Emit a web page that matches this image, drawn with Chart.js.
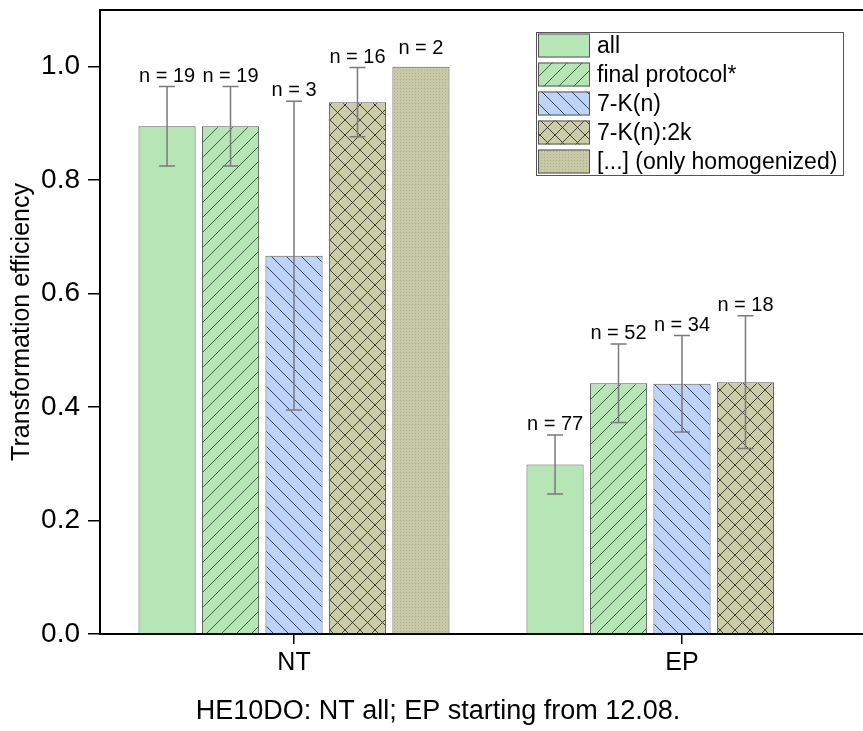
<!DOCTYPE html>
<html>
<head>
<meta charset="utf-8">
<script src="https://cdn.jsdelivr.net/npm/chart.js@4.4.1/dist/chart.umd.min.js"></script>
<style>
html,body{margin:0;padding:0;overflow:hidden;background:#fff;}
#wrap{width:876px;height:731px;position:relative;}
</style>
</head>
<body>
<div id="wrap"><canvas id="c"></canvas></div>
<script>
// ---- data ----
const categories = ['NT', 'EP'];
const seriesNames = ['all', 'final protocol*', '7-K(n)', '7-K(n):2k', '[...] (only homogenized)'];

const allValues   = [0.895, 0.299];
const finalValues = [0.895, 0.442];
const k7nValues   = [0.667, 0.441];
const k7n2kValues = [0.9375, 0.444];
const homogValues = [1.0, null];

const allErr   = [0.070, 0.052];
const finalErr = [0.070, 0.069];
const k7nErr   = [0.272, 0.085];
const k7n2kErr = [0.061, 0.117];
const homogErr = [null, null];

const allN   = [19, 77];
const finalN = [19, 52];
const k7nN   = [3, 34];
const k7n2kN = [16, 18];
const homogN = [2, null];

const yTickValues = [0, 0.2, 0.4, 0.6, 0.8, 1.0];

const seriesValues = [allValues, finalValues, k7nValues, k7n2kValues, homogValues];
const seriesErrors = [allErr, finalErr, k7nErr, k7n2kErr, homogErr];
const seriesCounts = [allN, finalN, k7nN, k7n2kN, homogN];

// ---- styles ----
const FONT = "'Liberation Sans', Arial, sans-serif";
const GREEN = '#b6e6b6';
const BLUE = '#bdd4f8';
const OLIVE = '#caccaa';

function makePattern(bg, type, lineColor) {
  const s = type === 'dots' ? 3 : 15;
  const c = document.createElement('canvas');
  c.width = s; c.height = s;
  const g = c.getContext('2d');
  g.fillStyle = bg; g.fillRect(0, 0, s, s);
  if (type === 'dots') {
    g.fillStyle = 'rgba(120,120,90,0.35)';
    g.fillRect(1, 1, 1, 1);
  } else {
    g.strokeStyle = lineColor; g.lineWidth = 1;
    g.beginPath();
    if (type === 'slash' || type === 'cross') {
      g.moveTo(0, s); g.lineTo(s, 0);
      g.moveTo(-2, 2); g.lineTo(2, -2);
      g.moveTo(s - 2, s + 2); g.lineTo(s + 2, s - 2);
    }
    if (type === 'back' || type === 'cross') {
      g.moveTo(0, 0); g.lineTo(s, s);
      g.moveTo(s - 2, -2); g.lineTo(s + 2, 2);
      g.moveTo(-2, s - 2); g.lineTo(2, s + 2);
    }
    g.stroke();
  }
  return document.getElementById('c').getContext('2d').createPattern(c, 'repeat');
}

const fills = [
  GREEN,
  makePattern(GREEN, 'slash', 'rgba(40,70,40,0.85)'),
  makePattern(BLUE, 'back', 'rgba(30,40,80,0.85)'),
  makePattern(OLIVE, 'cross', 'rgba(40,40,30,0.85)'),
  makePattern('#c8c9a6', 'dots', '#000')
];

// ---- plugins ----
const framePlugin = {
  id: 'frame',
  afterDraw(chart) {
    const {ctx, chartArea: a} = chart;
    ctx.save();
    ctx.strokeStyle = '#000'; ctx.lineWidth = 2;
    ctx.beginPath();
    ctx.moveTo(a.left - 1, a.top); ctx.lineTo(a.right, a.top);
    ctx.lineTo(a.right, a.bottom);
    ctx.stroke();
    ctx.restore();
  }
};

const errorPlugin = {
  id: 'errbars',
  afterDatasetsDraw(chart) {
    const {ctx} = chart;
    const y = chart.scales.y;
    ctx.save();
    chart.data.datasets.forEach((ds, di) => {
      const meta = chart.getDatasetMeta(di);
      meta.data.forEach((bar, i) => {
        const v = ds.data[i];
        if (v == null) return;
        const e = ds.errors[i];
        let topPix = y.getPixelForValue(v);
        if (e != null) {
          const hi = y.getPixelForValue(v + e), lo = y.getPixelForValue(v - e);
          ctx.strokeStyle = '#7a7a7a'; ctx.lineWidth = 1.5;
          ctx.beginPath();
          ctx.moveTo(bar.x, hi); ctx.lineTo(bar.x, lo);
          ctx.moveTo(bar.x - 8, hi); ctx.lineTo(bar.x + 8, hi);
          ctx.moveTo(bar.x - 8, lo); ctx.lineTo(bar.x + 8, lo);
          ctx.stroke();
          topPix = hi;
        }
        const n = ds.counts[i];
        if (n != null) {
          ctx.fillStyle = '#000';
          ctx.font = '20px ' + FONT;
          ctx.textAlign = 'center'; ctx.textBaseline = 'alphabetic';
          ctx.fillText('n = ' + n, bar.x, topPix - (e != null ? 5 : 13));
        }
      });
    });
    ctx.restore();
  }
};

const legendPlugin = {
  id: 'boxlegend',
  afterDraw(chart) {
    const {ctx} = chart;
    const bx = 536, by = 32, bw = 307, bh = 143;
    ctx.save();
    ctx.fillStyle = '#fff'; ctx.fillRect(bx, by, bw, bh);
    ctx.strokeStyle = '#555'; ctx.lineWidth = 1;
    ctx.strokeRect(bx + 0.5, by + 0.5, bw, bh);
    chart.data.datasets.forEach((ds, i) => {
      const sy = by + 1.5 + i * 29;
      ctx.fillStyle = ds.backgroundColor;
      ctx.fillRect(538, sy, 52, 24);
      ctx.strokeStyle = '#555';
      ctx.strokeRect(538.5, sy + 0.5, 51, 23);
      ctx.fillStyle = '#000';
      ctx.font = '23px ' + FONT;
      ctx.textAlign = 'left'; ctx.textBaseline = 'middle';
      ctx.fillText(ds.label, 597, sy + 13);
    });
    ctx.restore();
  }
};

new Chart(document.getElementById('c'), {
  type: 'bar',
  data: {
    labels: categories,
    datasets: seriesNames.map((name, i) => ({
      label: name,
      data: seriesValues[i],
      errors: seriesErrors[i],
      counts: seriesCounts[i],
      backgroundColor: fills[i],
      borderColor: '#5c5c5c',
      borderWidth: 1,
      categoryPercentage: 0.818,
      barPercentage: 0.9
    }))
  },
  options: {
    responsive: true,
    maintainAspectRatio: false,
    animation: false,
    layout: {padding: {top: 10, left: 0, right: 0, bottom: 0}},
    plugins: {
      legend: {display: false},
      tooltip: {enabled: false},
      title: {
        display: true, position: 'bottom',
        text: 'HE10DO: NT all; EP starting from 12.08.',
        color: '#000', font: {family: FONT, size: 27, weight: 'normal'},
        padding: {top: 0, bottom: 3}
      }
    },
    scales: {
      x: {
        grid: {offset: false, drawOnChartArea: false, tickLength: 10, color: '#000', lineWidth: 1.5},
        border: {color: '#000', width: 2},
        ticks: {color: '#000', font: {family: FONT, size: 25}, padding: 4},
        afterFit(s) { s.height = 61.6; s.paddingLeft = 0; s.paddingRight = 0; }
      },
      y: {
        min: 0, max: 1.1,
        afterBuildTicks(s) { s.ticks = yTickValues.map(v => ({value: v})); },
        ticks: {color: '#000', font: {family: FONT, size: 28}, padding: 8, callback: v => Number(v).toFixed(1)},
        grid: {drawOnChartArea: false, tickLength: 12, color: '#000', lineWidth: 1.5},
        border: {color: '#000', width: 2},
        title: {display: true, text: 'Transformation efficiency', color: '#000',
                font: {family: FONT, size: 25}, padding: {top: 7, bottom: 0}},
        afterFit(s) { s.width = 100; s.paddingTop = 0; s.paddingBottom = 0; }
      }
    }
  },
  plugins: [framePlugin, errorPlugin, legendPlugin]
});
</script>
</body>
</html>
